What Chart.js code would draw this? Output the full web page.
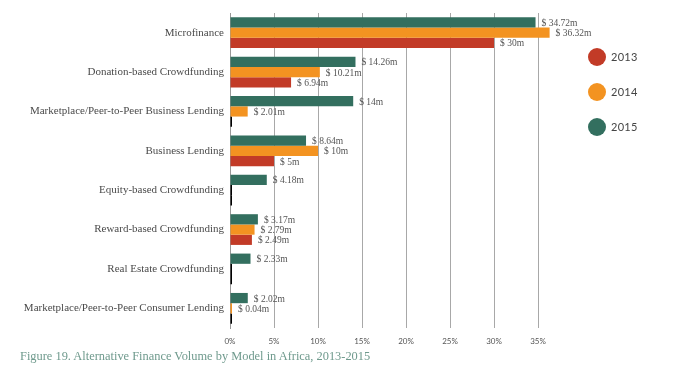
<!DOCTYPE html>
<html>
<head>
<meta charset="utf-8">
<script src="https://cdn.jsdelivr.net/npm/chart.js@4/dist/chart.umd.min.js"></script>
<style>
  body { margin: 0; background: #fff; }
  #wrap { position: relative; width: 695px; height: 388px; }
  #legend { position: absolute; left: 588px; top: 47px; }
  .item { position: relative; height: 35px; }
  .dot { position: absolute; left: 0; top: 1px; width: 18px; height: 18px; border-radius: 50%; }
  .lab { position: absolute; left: 23px; top: 3px; font: 11px Lato, sans-serif; color: #444; letter-spacing: 0.3px; }
  #caption { position: absolute; left: 20px; top: 349px; font: 12.4px "Liberation Serif", serif; color: #6f9a8d; }
</style>
</head>
<body>
<div id="wrap">
  <canvas id="chart" width="695" height="388"></canvas>
  <div id="legend"></div>
  <div id="caption">Figure 19. Alternative Finance Volume by Model in Africa, 2013-2015</div>
</div>
<script>
// categories, top to bottom
const categories = [
    'Microfinance',
    'Donation-based Crowdfunding',
    'Marketplace/Peer-to-Peer Business Lending',
    'Business Lending',
    'Equity-based Crowdfunding',
    'Reward-based Crowdfunding',
    'Real Estate Crowdfunding',
    'Marketplace/Peer-to-Peer Consumer Lending'
];

// volumes in $ millions
const values2015 = [34.72, 14.26, 14, 8.64, 4.18, 3.17, 2.33, 2.02];
const values2014 = [36.32, 10.21, 2.01, 10, 0, 2.79, 0, 0.04];
const values2013 = [30, 6.94, 0, 5, 0, 2.49, 0, 0];

const tickValues = [0, 5, 10, 15, 20, 25, 30, 35];

const colors = { '2013': '#c23b27', '2014': '#f39321', '2015': '#336f5f' };

// legend (2013 at the top)
const legendDiv = document.getElementById('legend');
['2013', '2014', '2015'].forEach(year => {
    const item = document.createElement('div');
    item.className = 'item';
    item.innerHTML = '<span class="dot" style="background:' + colors[year] + '"></span><span class="lab">' + year + '</span>';
    legendDiv.appendChild(item);
});

function makeDataset(label, data) {
    return {
        label: label,
        data: data,
        backgroundColor: ctx => ctx.raw === 0 ? '#000' : colors[label],
        minBarLength: 2,
        barPercentage: 1,
        categoryPercentage: 0.78
    };
}

// draws "$ 14.26m" style labels right of each bar
const valueLabels = {
    id: 'valueLabels',
    afterDatasetsDraw(chart) {
        const ctx = chart.ctx;
        ctx.save();
        ctx.font = '9.5px "Liberation Serif", serif';
        ctx.fillStyle = '#555';
        ctx.textBaseline = 'middle';
        chart.data.datasets.forEach((ds, i) => {
            chart.getDatasetMeta(i).data.forEach((bar, j) => {
                const v = ds.data[j];
                if (v === 0) return;
                ctx.fillText('$ ' + v + 'm', bar.x + 6, bar.y + 1);
            });
        });
        ctx.restore();
    }
};

new Chart(document.getElementById('chart'), {
    type: 'bar',
    data: {
        labels: categories,
        datasets: [
            makeDataset('2015', values2015),
            makeDataset('2014', values2014),
            makeDataset('2013', values2013)
        ]
    },
    options: {
        indexAxis: 'y',
        responsive: false,
        animation: false,
        devicePixelRatio: 1,
        layout: { padding: { left: 0, right: 113, top: 13, bottom: 40 } },
        plugins: { legend: { display: false }, tooltip: { enabled: false } },
        scales: {
            x: {
                min: 0,
                max: 40,
                afterBuildTicks: scale => {
                    scale.ticks = tickValues.map(v => ({ value: v }));
                },
                afterFit: scale => { scale.height = 20; },
                grid: { color: '#a8a8a8', lineWidth: 1, drawTicks: false },
                border: { display: false },
                ticks: {
                    padding: 9,
                    font: { family: 'Lato, sans-serif', size: 8 },
                    color: '#555',
                    callback: v => v + '%'
                }
            },
            y: {
                afterFit: scale => { scale.width = 230; },
                grid: { display: false, drawTicks: false },
                border: { display: true, color: '#999', width: 1 },
                ticks: {
                    padding: 6,
                    font: { family: '"Liberation Serif", serif', size: 11 },
                    color: '#4a4a4a'
                }
            }
        }
    },
    plugins: [valueLabels]
});
</script>
</body>
</html>
